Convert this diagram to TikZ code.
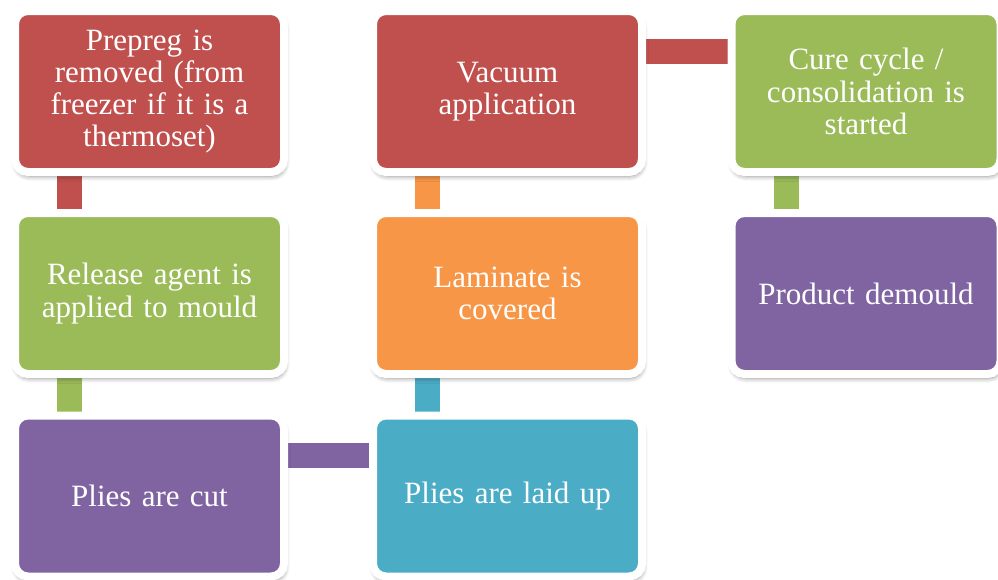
\documentclass[tikz,border=0pt]{standalone}
\usepackage{fontspec}
\setmainfont{Liberation Serif}
\usetikzlibrary{positioning,shadows.blur,backgrounds}
\definecolor{stepred}{HTML}{C0504D}
\definecolor{stepgreen}{HTML}{9BBB59}
\definecolor{steppurple}{HTML}{8064A2}
\definecolor{stepcyan}{HTML}{4BACC6}
\definecolor{steporange}{HTML}{F79646}

\begin{document}
\begin{tikzpicture}[x=1pt,y=-1pt,
    stepbox/.style={rectangle,rounded corners=13pt,draw=white,line width=8pt,
      minimum width=269pt,minimum height=161pt,text width=250pt,align=center,
      text=white,font=\rmfamily\fontsize{31}{32.3}\selectfont,
      blur shadow={shadow xshift=1pt,shadow yshift=-4pt,shadow blur radius=5pt,
        shadow blur steps=8,shadow opacity=45}},
    link/.style={line width=25pt}]
    \useasboundingbox (0,0) rectangle (998,579);
    % boxes, column by column
    \node[stepbox,fill=stepred]    (prepreg) at (149.5,91.5) {Prepreg is\\removed (from\\freezer if it is a\\thermoset)};
    \node[stepbox,fill=stepgreen]  (release) at (149.5,293.5) {Release agent is\\applied to mould};
    \node[stepbox,fill=steppurple] (cut)     at (149.5,496) {Plies are cut};
    \node[stepbox,fill=stepcyan]   (layup)   at (507.5,496) {Plies are laid up};
    \node[stepbox,fill=steporange] (cover)   at (507.5,293.5) {Laminate is\\covered};
    \node[stepbox,fill=stepred]    (vacuum)  at (507.5,91.5) {Vacuum\\application};
    \node[stepbox,fill=stepgreen]  (cure)    at (866,91.5) {Cure cycle /\\consolidation is\\started};
    \node[stepbox,fill=steppurple] (demould) at (866,293.5) {Product demould};
    % connecting bars behind the boxes
    \begin{scope}[on background layer]
      \draw[link,stepred]    ([xshift=-80pt]prepreg.center) -- ([xshift=-80pt]release.center);
      \draw[link,stepgreen]  ([xshift=-80pt]release.center) -- ([xshift=-80pt]cut.center);
      \draw[link,steppurple] ([yshift=40.5pt]cut.center) -- ([yshift=40.5pt]layup.center);
      \draw[link,stepcyan]   ([xshift=-80pt]layup.center) -- ([xshift=-80pt]cover.center);
      \draw[link,steporange] ([xshift=-80pt]cover.center) -- ([xshift=-80pt]vacuum.center);
      \draw[link,stepred]    ([yshift=40pt]vacuum.center) -- ([yshift=40pt]cure.center);
      \draw[link,stepgreen]  ([xshift=-80pt]cure.center) -- ([xshift=-80pt]demould.center);
    \end{scope}
\end{tikzpicture}
\end{document}
